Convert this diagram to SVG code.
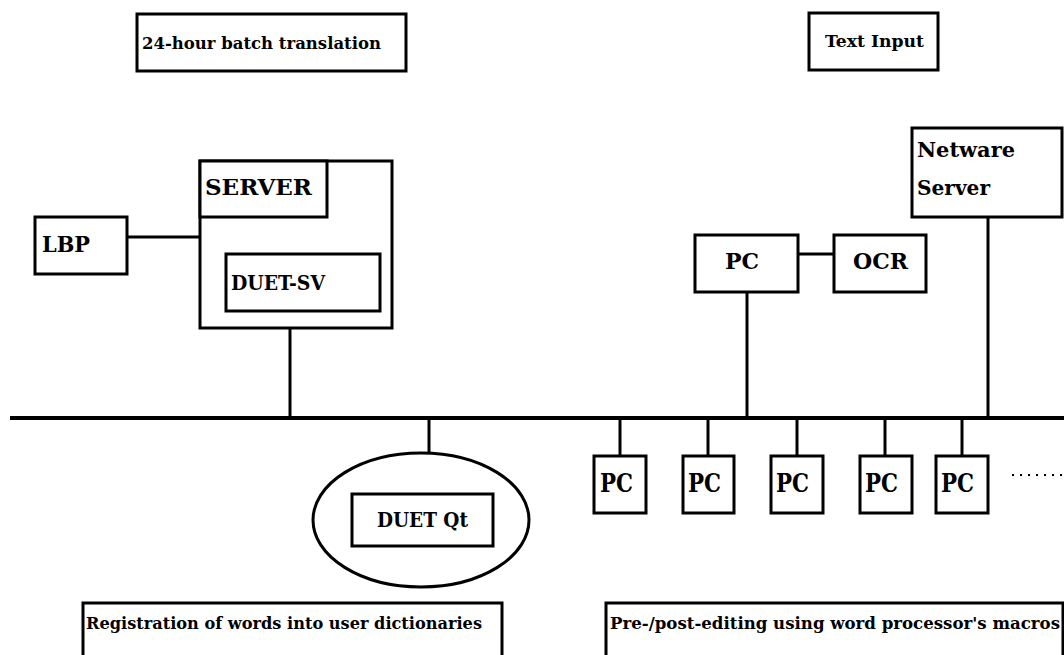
<svg xmlns="http://www.w3.org/2000/svg" width="1064" height="655" viewBox="0 0 1064 655">
<style>
  .box { fill: #fff; stroke: #000; stroke-width: 3; }
  .ln { stroke: #000; stroke-width: 3; fill: none; }
  .bus { stroke: #000; stroke-width: 4; fill: none; }
  text { font-family: "DejaVu Serif", "Liberation Serif", serif; font-weight: bold; fill: #000; }
  .s { font-size: 17px; }
  .f { font-size: 16px; }
  .m { font-size: 21px; }
  .l { font-size: 23px; }
  .p { font-size: 26px; }
</style>
<rect width="1064" height="655" fill="#fff"/>
<g id="connectors">
  <line class="bus" x1="10" y1="418" x2="1064" y2="418"/>
  <line class="ln" x1="127" y1="237" x2="200" y2="237"/>
  <line class="ln" x1="290" y1="328" x2="290" y2="418"/>
  <line class="ln" x1="798" y1="254" x2="834" y2="254"/>
  <line class="ln" x1="747" y1="292" x2="747" y2="418"/>
  <line class="ln" x1="988" y1="217" x2="988" y2="418"/>
  <line class="ln" x1="429" y1="418" x2="429" y2="453"/>
  <line class="ln" x1="620" y1="418" x2="620" y2="456"/>
  <line class="ln" x1="708" y1="418" x2="708" y2="456"/>
  <line class="ln" x1="797" y1="418" x2="797" y2="456"/>
  <line class="ln" x1="885" y1="418" x2="885" y2="456"/>
  <line class="ln" x1="962" y1="418" x2="962" y2="456"/>
  <line x1="1012" y1="475" x2="1064" y2="475" stroke="#000" stroke-width="2" stroke-dasharray="2,6"/>
</g>
<g id="batch">
  <rect class="box" x="137" y="14" width="269" height="57"/>
  <text class="s" x="142" y="49" textLength="239" lengthAdjust="spacingAndGlyphs">24-hour batch translation</text>
</g>
<g id="textinput">
  <rect class="box" x="809" y="13" width="129" height="57"/>
  <text class="s" x="825" y="47" textLength="99" lengthAdjust="spacingAndGlyphs">Text Input</text>
</g>
<g id="server">
  <rect class="box" x="200" y="161" width="192" height="167"/>
  <rect class="box" x="200" y="161" width="127" height="56"/>
  <text class="l" x="205" y="195" textLength="107" lengthAdjust="spacingAndGlyphs">SERVER</text>
</g>
<g id="duetsv">
  <rect class="box" x="226" y="254" width="154" height="57"/>
  <text class="m" x="231" y="290" textLength="94" lengthAdjust="spacingAndGlyphs">DUET-SV</text>
</g>
<g id="lbp">
  <rect class="box" x="35" y="217" width="92" height="57"/>
  <text class="l" x="42" y="252" textLength="48" lengthAdjust="spacingAndGlyphs">LBP</text>
</g>
<g id="netware">
  <rect class="box" x="912" y="128" width="150" height="89"/>
  <text class="m" x="917" y="157" textLength="98" lengthAdjust="spacingAndGlyphs">Netware</text>
  <text class="m" x="917" y="195" textLength="73" lengthAdjust="spacingAndGlyphs">Server</text>
</g>
<g id="pc-ocr">
  <rect class="box" x="695" y="235" width="103" height="57"/>
  <text class="l" x="725" y="269" textLength="34" lengthAdjust="spacingAndGlyphs">PC</text>
</g>
<g id="ocr">
  <rect class="box" x="834" y="235" width="92" height="57"/>
  <text class="l" x="853" y="269" textLength="55" lengthAdjust="spacingAndGlyphs">OCR</text>
</g>
<g id="pc1">
  <rect class="box" x="594" y="456" width="52" height="57"/>
  <text class="p" x="600" y="492" textLength="33" lengthAdjust="spacingAndGlyphs">PC</text>
</g>
<g id="pc2">
  <rect class="box" x="683" y="456" width="51" height="57"/>
  <text class="p" x="688" y="492" textLength="33" lengthAdjust="spacingAndGlyphs">PC</text>
</g>
<g id="pc3">
  <rect class="box" x="771" y="456" width="52" height="57"/>
  <text class="p" x="776" y="492" textLength="33" lengthAdjust="spacingAndGlyphs">PC</text>
</g>
<g id="pc4">
  <rect class="box" x="860" y="456" width="52" height="57"/>
  <text class="p" x="865" y="492" textLength="33" lengthAdjust="spacingAndGlyphs">PC</text>
</g>
<g id="pc5">
  <rect class="box" x="936" y="456" width="52" height="57"/>
  <text class="p" x="941" y="492" textLength="33" lengthAdjust="spacingAndGlyphs">PC</text>
</g>
<g id="duetqt">
  <ellipse class="box" cx="421" cy="520" rx="108" ry="67"/>
  <rect class="box" x="352" y="494" width="141" height="52"/>
  <text class="m" x="377" y="527" textLength="91" lengthAdjust="spacingAndGlyphs">DUET Qt</text>
</g>
<g id="registration">
  <rect class="box" x="83" y="603" width="419" height="60"/>
  <text class="f" x="86" y="629" textLength="396" lengthAdjust="spacingAndGlyphs">Registration of words into user dictionaries</text>
</g>
<g id="prepost">
  <rect class="box" x="606" y="603" width="457" height="60"/>
  <text class="f" x="610" y="629" textLength="450" lengthAdjust="spacingAndGlyphs">Pre-/post-editing using word processor's macros</text>
</g>
</svg>
